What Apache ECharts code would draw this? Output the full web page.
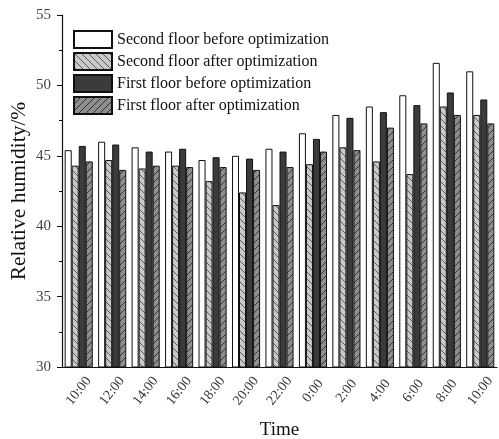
<!DOCTYPE html>
<html>
<head>
<meta charset="utf-8">
<script src="https://cdn.jsdelivr.net/npm/echarts@6/dist/echarts.min.js"></script>
<style>
  html, body { margin: 0; padding: 0; background: #fff; }
  #chart { width: 499px; height: 439px; }
</style>
</head>
<body>
<div id="chart"></div>
<script>
// Hourly time stamps over one day
const categories = ['10:00', '12:00', '14:00', '16:00', '18:00', '20:00', '22:00',
                    '0:00', '2:00', '4:00', '6:00', '8:00', '10:00'];

// Relative humidity (%) per floor, before and after optimization
const secondBefore = [45.4, 46.0, 45.6, 45.3, 44.7, 45.0, 45.5, 46.6, 47.9, 48.5, 49.3, 51.6, 51.0];
const secondAfter  = [44.3, 44.7, 44.1, 44.3, 43.2, 42.4, 41.5, 44.4, 45.6, 44.6, 43.7, 48.5, 47.9];
const firstBefore  = [45.7, 45.8, 45.3, 45.5, 44.9, 44.8, 45.3, 46.2, 47.7, 48.1, 48.6, 49.5, 49.0];
const firstAfter   = [44.6, 44.0, 44.3, 44.2, 44.2, 44.0, 44.2, 45.3, 45.4, 47.0, 47.3, 47.9, 47.3];

const seriesNames = ['Second floor before optimization', 'Second floor after optimization',
                     'First floor before optimization', 'First floor after optimization'];

// Y-axis range
const yMin = 30, yMax = 55, yStep = 5;

// Diagonal hatch fill: dir = 'back' draws "\" lines, 'fwd' draws "/" lines
function hatch(bg, line, dir) {
  const s = 7;
  const c = document.createElement('canvas');
  c.width = s; c.height = s;
  const g = c.getContext('2d');
  g.fillStyle = bg;
  g.fillRect(0, 0, s, s);
  g.strokeStyle = line;
  g.lineWidth = 1;
  g.beginPath();
  if (dir === 'back') {
    g.moveTo(-1, -1); g.lineTo(s + 1, s + 1);
    g.moveTo(-1, s - 1); g.lineTo(1, s + 1);
    g.moveTo(s - 1, -1); g.lineTo(s + 1, 1);
  } else {
    g.moveTo(-1, s + 1); g.lineTo(s + 1, -1);
    g.moveTo(-1, 1); g.lineTo(1, -1);
    g.moveTo(s - 1, s + 1); g.lineTo(s + 1, s - 1);
  }
  g.stroke();
  return { image: c, repeat: 'repeat' };
}

const fills = [
  '#ffffff',
  hatch('#c9c9c9', '#5a5a5a', 'back'),
  '#3b3b3b',
  hatch('#8e8e8e', '#333333', 'fwd')
];
const values = [secondBefore, secondAfter, firstBefore, firstAfter];

const serif = 'Liberation Serif, Times New Roman, serif';

const chart = echarts.init(document.getElementById('chart'), null, { renderer: 'canvas' });

chart.setOption({
  animation: false,
  backgroundColor: '#ffffff',
  textStyle: { fontFamily: serif },
  grid: { left: 62, right: 2, top: 15, bottom: 72, containLabel: false, outerBoundsMode: 'none' },
  legend: {
    left: 73, top: 30,
    padding: 0,
    orient: 'vertical',
    icon: 'rect',
    itemWidth: 38, itemHeight: 17, itemGap: 3,
    textStyle: { fontFamily: serif, fontSize: 16, color: '#111' },
    data: seriesNames
  },
  xAxis: [{
    type: 'category',
    data: categories,
    name: 'Time',
    nameLocation: 'middle',
    nameGap: 54,
    nameTextStyle: { fontFamily: serif, fontSize: 19, color: '#111' },
    axisLine: { lineStyle: { color: '#111', width: 1.2 } },
    axisTick: { alignWithLabel: true, length: 5, lineStyle: { color: '#111' } },
    axisLabel: {
      rotate: 52, align: 'center', verticalAlign: 'middle',
      fontFamily: serif, fontSize: 14, color: '#333', margin: 24, interval: 0
    }
  }, {
    type: 'category',
    data: categories,
    position: 'bottom',
    axisLine: { show: false },
    axisTick: { length: 3, lineStyle: { color: '#111' } },
    axisLabel: { show: false }
  }],
  yAxis: {
    type: 'value',
    min: yMin, max: yMax, interval: yStep,
    name: 'Relative humidity/%',
    nameLocation: 'middle',
    nameGap: 32,
    nameMoveOverlap: false,
    nameTextStyle: { fontFamily: serif, fontSize: 21.5, color: '#111' },
    axisLine: { show: true, lineStyle: { color: '#111', width: 1.2 } },
    axisTick: { show: true, length: 5, lineStyle: { color: '#111' } },
    minorTick: { show: true, splitNumber: 2, length: 3, lineStyle: { color: '#111' } },
    splitLine: { show: false },
    axisLabel: { fontFamily: serif, fontSize: 15, color: '#444', margin: 11 }
  },
  series: seriesNames.map((name, i) => ({
    name,
    type: 'bar',
    xAxisIndex: 0,
    data: values[i],
    barGap: '0%',
    barCategoryGap: '16%',
    itemStyle: { color: fills[i], borderColor: '#111', borderWidth: 1 }
  }))
});
</script>
</body>
</html>
